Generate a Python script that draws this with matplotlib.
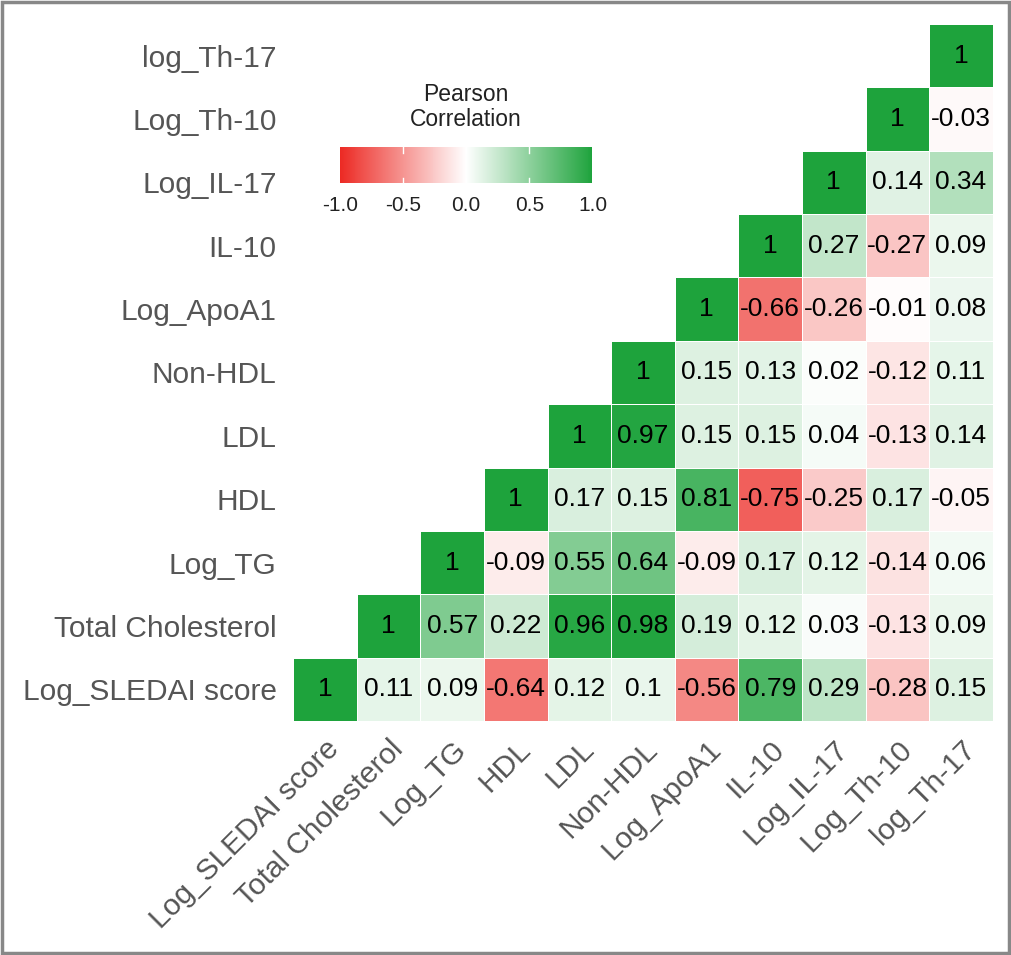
import numpy as np
import matplotlib.pyplot as plt
from matplotlib.colors import LinearSegmentedColormap
from matplotlib.patches import Rectangle

labels = ["Log_SLEDAI score", "Total Cholesterol", "Log_TG", "HDL", "LDL",
          "Non-HDL", "Log_ApoA1", "IL-10", "Log_IL-17", "Log_Th-10", "log_Th-17"]

# each row starts at the diagonal (row i, columns i..10)
r_sledai = [1, 0.11, 0.09, -0.64, 0.12, 0.1, -0.56, 0.79, 0.29, -0.28, 0.15]
r_chol = [1, 0.57, 0.22, 0.96, 0.98, 0.19, 0.12, 0.03, -0.13, 0.09]
r_tg = [1, -0.09, 0.55, 0.64, -0.09, 0.17, 0.12, -0.14, 0.06]
r_hdl = [1, 0.17, 0.15, 0.81, -0.75, -0.25, 0.17, -0.05]
r_ldl = [1, 0.97, 0.15, 0.15, 0.04, -0.13, 0.14]
r_nonhdl = [1, 0.15, 0.13, 0.02, -0.12, 0.11]
r_apoa1 = [1, -0.66, -0.26, -0.01, 0.08]
r_il10 = [1, 0.27, -0.27, 0.09]
r_il17 = [1, 0.14, 0.34]
r_th10 = [1, -0.03]
r_th17 = [1]

rows = [r_sledai, r_chol, r_tg, r_hdl, r_ldl, r_nonhdl, r_apoa1, r_il10,
        r_il17, r_th10, r_th17]

n = len(labels)
mat = np.full((n, n), np.nan)
for i, r in enumerate(rows):
    mat[i, i:] = r
mat = np.ma.masked_invalid(mat)

cmap = LinearSegmentedColormap.from_list("rg", ["#ec2a24", "#ffffff", "#1ea33c"])
fam = "Liberation Sans"

fig = plt.figure(figsize=(10.11, 9.55), dpi=100)
ax = fig.add_axes([0.290, 0.245, 0.692, 0.730])
mesh = ax.pcolormesh(np.arange(n + 1), np.arange(n + 1), mat, cmap=cmap,
                     vmin=-1, vmax=1, edgecolors="white", linewidth=0.4)

for i, r in enumerate(rows):
    for k, v in enumerate(r):
        ax.text(i + k + 0.5, i + 0.5, f"{v:g}", ha="center", va="center",
                fontsize=19, color="black", family=fam)

ax.set_xlim(0, n)
ax.set_ylim(0, n)
ax.set_xticks(np.arange(n) + 0.5)
ax.set_yticks(np.arange(n) + 0.5)
ax.set_xticklabels(labels, rotation=45, ha="right", rotation_mode="anchor",
                   fontsize=21.5, color="#555555", family=fam)
ax.set_yticklabels(labels, fontsize=21.5, color="#555555", family=fam)
ax.tick_params(axis="y", length=0, pad=12)
ax.tick_params(axis="x", length=0, pad=10)
for s in ax.spines.values():
    s.set_visible(False)

# colour bar legend
cax = fig.add_axes([0.336, 0.808, 0.250, 0.038])
cb = fig.colorbar(mesh, cax=cax, orientation="horizontal", ticks=[-1, -0.5, 0, 0.5, 1])
cb.outline.set_visible(False)
cb.ax.tick_params(length=0, pad=9, labelsize=15, colors="#222222")
cb.ax.set_xticklabels(["-1.0", "-0.5", "0.0", "0.5", "1.0"], family=fam)
for t in [-0.5, 0, 0.5]:
    cax.axvline(t, ymin=0, ymax=0.15, color="white", lw=1)
    cax.axvline(t, ymin=0.85, ymax=1, color="white", lw=1)
fig.text(0.461, 0.888, "Pearson\nCorrelation", ha="center", va="center",
         fontsize=16.5, family=fam, linespacing=1.1, color="#222222")

fig.patches.append(Rectangle((0.002, 0.002), 0.996, 0.996, transform=fig.transFigure,
                             fill=False, edgecolor="#888888", lw=2.5))

fig.savefig("out.png", dpi=100)
